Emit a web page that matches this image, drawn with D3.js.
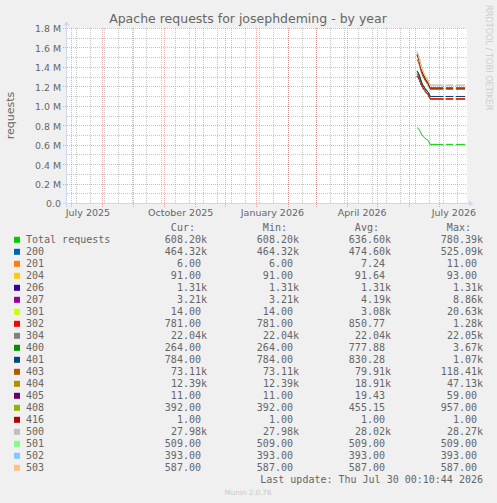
<!DOCTYPE html>
<html>
<head>
<meta charset="utf-8">
<script src="https://cdn.jsdelivr.net/npm/d3@7/dist/d3.min.js"></script>
<style>
html, body { margin: 0; padding: 0; background: #F0F0F0; }
svg { display: block; }
</style>
</head>
<body>
<div id="chart"></div>
<script>
// Graph time range (munin "by year" view) and sample times
const timeRange = ["2025-06-26 18:00", "2026-07-28 12:00"];
const dates = [
  "2026-06-09 00:00", "2026-06-10 00:00", "2026-06-11 00:00", "2026-06-12 00:00",
  "2026-06-13 00:00", "2026-06-14 00:00", "2026-06-15 00:00", "2026-06-16 00:00",
  "2026-06-17 00:00", "2026-06-18 00:00", "2026-06-19 00:00", "2026-06-20 00:00",
  "2026-06-22 00:00", "2026-07-05 00:00", "2026-07-06 00:00", "2026-07-07 12:00",
  "2026-07-14 18:00", "2026-07-16 00:00", "2026-07-17 12:00", "2026-07-26 12:00"
];

// requests per series (null = no data), stacked in this order
const sTotal = [780390, 772000, 762000, 742000, 718000, 702000, 690000, 680000, 671000, 663000, 656000, 648000, 608200, 608200, null, 608200, 608200, null, 608200, 608200];
const s200 = [525090, 522000, 517000, 510000, 503000, 497000, 492000, 487000, 482000, 477000, 472000, 468000, 464320, 464320, null, 464320, 464320, null, 464320, 464320];
const s201 = [11, 10, 10, 9, 9, 8, 8, 7, 7, 7, 6, 6, 6, 6, null, 6, 6, null, 6, 6];
const s204 = [93, 93, 93, 92, 92, 92, 92, 91, 91, 91, 91, 91, 91, 91, null, 91, 91, null, 91, 91];
const s206 = [1310, 1310, 1310, 1310, 1310, 1310, 1310, 1310, 1310, 1310, 1310, 1310, 1310, 1310, null, 1310, 1310, null, 1310, 1310];
const s207 = [8860, 7900, 7000, 6200, 5500, 4900, 4400, 4000, 3700, 3500, 3350, 3250, 3210, 3210, null, 3210, 3210, null, 3210, 3210];
const s301 = [20630, 16000, 11500, 7800, 4900, 2800, 1400, 600, 200, 60, 20, 14, 14, 14, null, 14, 14, null, 14, 14];
const s302 = [1280, 1220, 1150, 1080, 1020, 970, 920, 880, 850, 820, 800, 790, 781, 781, null, 781, 781, null, 781, 781];
const s304 = [22050, 22050, 22050, 22040, 22040, 22040, 22040, 22040, 22040, 22040, 22040, 22040, 22040, 22040, null, 22040, 22040, null, 22040, 22040];
const s400 = [3670, 3200, 2700, 2250, 1850, 1500, 1200, 950, 720, 540, 400, 300, 264, 264, null, 264, 264, null, 264, 264];
const s401 = [1070, 1030, 990, 950, 910, 880, 850, 830, 815, 800, 792, 787, 784, 784, null, 784, 784, null, 784, 784];
const s403 = [118410, 113000, 107500, 102000, 97000, 92500, 88500, 85000, 82000, 79500, 77000, 75000, 73110, 73110, null, 73110, 73110, null, 73110, 73110];
const s404 = [47130, 43500, 39500, 35500, 31500, 27500, 24000, 21000, 18500, 16500, 14800, 13400, 12390, 12390, null, 12390, 12390, null, 12390, 12390];
const s405 = [59, 52, 45, 39, 33, 28, 24, 20, 17, 15, 13, 12, 11, 11, null, 11, 11, null, 11, 11];
const s408 = [957, 900, 830, 760, 690, 630, 580, 530, 490, 460, 430, 405, 392, 392, null, 392, 392, null, 392, 392];
const s416 = [1, 1, 1, 1, 1, 1, 1, 1, 1, 1, 1, 1, 1, 1, null, 1, 1, null, 1, 1];
const s500 = [28270, 28230, 28180, 28130, 28090, 28050, 28020, 28000, 27990, 27980, 27980, 27980, 27980, 27980, null, 27980, 27980, null, 27980, 27980];
const s501 = [509, 509, 509, 509, 509, 509, 509, 509, 509, 509, 509, 509, 509, 509, null, 509, 509, null, 509, 509];
const s502 = [393, 393, 393, 393, 393, 393, 393, 393, 393, 393, 393, 393, 393, 393, null, 393, 393, null, 393, 393];
const s503 = [587, 587, 587, 587, 587, 587, 587, 587, 587, 587, 587, 587, 587, 587, null, 587, 587, null, 587, 587];

const seriesNames = ["Total requests", "200", "201", "204", "206", "207", "301", "302", "304", "400",
                     "401", "403", "404", "405", "408", "416", "500", "501", "502", "503"];
const seriesValues = [sTotal, s200, s201, s204, s206, s207, s301, s302, s304, s400,
                      s401, s403, s404, s405, s408, s416, s500, s501, s502, s503];
const seriesColors = ["#00CC00", "#0066B3", "#FF8000", "#FFCC00", "#330099", "#990099", "#CCFF00", "#FF0000", "#808080", "#008F00",
                      "#00487D", "#B35A00", "#B38F00", "#6B006B", "#8FB300", "#B30000", "#BEBEBE", "#80FF80", "#80C9FF", "#FFC080"];

// legend statistics as printed
const curText = ["608.20k", "464.32k", "6.00", "91.00", "1.31k", "3.21k", "14.00", "781.00", "22.04k", "264.00",
                 "784.00", "73.11k", "12.39k", "11.00", "392.00", "1.00", "27.98k", "509.00", "393.00", "587.00"];
const minText = ["608.20k", "464.32k", "6.00", "91.00", "1.31k", "3.21k", "14.00", "781.00", "22.04k", "264.00",
                 "784.00", "73.11k", "12.39k", "11.00", "392.00", "1.00", "27.98k", "509.00", "393.00", "587.00"];
const avgText = ["636.60k", "474.60k", "7.24", "91.64", "1.31k", "4.19k", "3.08k", "850.77", "22.04k", "777.88",
                 "830.28", "79.91k", "18.91k", "19.43", "455.15", "1.00", "28.02k", "509.00", "393.00", "587.00"];
const maxText = ["780.39k", "525.09k", "11.00", "93.00", "1.31k", "8.86k", "20.63k", "1.28k", "22.05k", "3.67k",
                 "1.07k", "118.41k", "47.13k", "59.00", "957.00", "1.00", "28.27k", "509.00", "393.00", "587.00"];
const statHeaders = ["Cur:", "Min:", "Avg:", "Max:"];

const yTicks = [0, 200000, 400000, 600000, 800000, 1000000, 1200000, 1400000, 1600000, 1800000];
const yTickLabels = ["0.0", "0.2 M", "0.4 M", "0.6 M", "0.8 M", "1.0 M", "1.2 M", "1.4 M", "1.6 M", "1.8 M"];
const xTickDates = ["2025-07-17", "2025-10-17", "2026-01-16", "2026-04-15", "2026-07-15"];
const xTickLabels = ["July 2025", "October 2025", "January 2026", "April 2026", "July 2026"];

const titleText = "Apache requests for josephdeming - by year";
const lastUpdate = "Last update: Thu Jul 30 00:10:44 2026";

const width = 497, height = 503;
const plot = {left: 67, right: 467, top: 28.5, bottom: 203.5};
const fontColor = "#666666",
      axisColor = "#CFD6F8",
      gridColor = "rgba(143,143,143,0.5)",
      majorColor = "rgba(222,79,79,0.45)";

const parse = d3.timeParse("%Y-%m-%d %H:%M");
const parseDay = d3.timeParse("%Y-%m-%d");
const times = dates.map(parse);

const x = d3.scaleTime()
  .domain(timeRange.map(parse))
  .range([plot.left, plot.right]);
const y = d3.scaleLinear()
  .domain([0, 1800000])
  .range([plot.bottom, plot.top]);

const svg = d3.select("#chart").append("svg")
  .attr("width", width)
  .attr("height", height);

svg.append("rect").attr("width", width).attr("height", height).attr("fill", "#F0F0F0");
svg.append("rect")
  .attr("x", plot.left).attr("y", 28)
  .attr("width", plot.right - plot.left).attr("height", 176)
  .attr("fill", "#FFFFFF");

const px = v => Math.floor(v) + 0.5;

// minor grid
const grid = svg.append("g").attr("shape-rendering", "crispEdges").attr("stroke-dasharray", "1,1");
d3.range(100000, 1800000, 200000).forEach(v => {
  grid.append("line")
    .attr("x1", plot.left).attr("x2", plot.right)
    .attr("y1", px(y(v))).attr("y2", px(y(v)))
    .attr("stroke", gridColor);
});
d3.timeWeek.range(new Date(2025, 6, 6), x.domain()[1], 2).forEach(t => {
  grid.append("line")
    .attr("x1", px(x(t))).attr("x2", px(x(t)))
    .attr("y1", 28).attr("y2", 203)
    .attr("stroke", gridColor);
});
// major grid
yTicks.forEach(v => {
  grid.append("line")
    .attr("x1", plot.left - 4).attr("x2", plot.right)
    .attr("y1", px(y(v))).attr("y2", px(y(v)))
    .attr("stroke", majorColor);
});
d3.timeMonth.range(x.domain()[0], x.domain()[1]).forEach(t => {
  grid.append("line")
    .attr("x1", px(x(t))).attr("x2", px(x(t)))
    .attr("y1", 28).attr("y2", 207)
    .attr("stroke", majorColor);
});

// stacked lines (each series drawn on top of the running sum)
const line = d3.line()
  .defined(d => d != null)
  .x((d, i) => x(times[i]))
  .y(d => y(d));

let running = sTotal.map(() => 0);
seriesValues.forEach((vals, k) => {
  running = running.map((r, i) => (vals[i] == null || r == null) ? null : r + vals[i]);
  svg.append("path")
    .attr("d", line(running))
    .attr("fill", "none")
    .attr("stroke", seriesColors[k])
    .attr("stroke-width", 1);
});

// axes
svg.append("line")
  .attr("x1", 63).attr("x2", 469)
  .attr("y1", 203.5).attr("y2", 203.5)
  .attr("stroke", axisColor);
svg.append("path")
  .attr("d", "M469,200.5L473.5,203.5L469,206.5Z")
  .attr("fill", axisColor);
svg.append("line")
  .attr("x1", 66.5).attr("x2", 66.5)
  .attr("y1", 207).attr("y2", 25)
  .attr("stroke", axisColor);
svg.append("path")
  .attr("d", "M63.5,25.5L66.5,21L69.5,25.5Z")
  .attr("fill", axisColor);

const yAxis = svg.append("g")
  .attr("transform", `translate(${plot.left - 6},0)`)
  .call(d3.axisLeft(y).tickValues(yTicks).tickFormat((d, i) => yTickLabels[i]).tickSize(0).tickPadding(0));
yAxis.select(".domain").remove();
yAxis.selectAll("text")
  .attr("font-family", "DejaVu Sans").attr("font-size", "9.4px")
  .attr("fill", fontColor).attr("dy", "3.4");

const xAxis = svg.append("g")
  .attr("transform", `translate(0,${plot.bottom})`)
  .call(d3.axisBottom(x).tickValues(xTickDates.map(parseDay)).tickFormat((d, i) => xTickLabels[i]).tickSize(0).tickPadding(0));
xAxis.select(".domain").remove();
xAxis.selectAll("text")
  .attr("font-family", "DejaVu Sans").attr("font-size", "9.5px")
  .attr("fill", fontColor).attr("dy", null).attr("y", 12.5);

// title and labels
svg.append("text")
  .attr("x", 248).attr("y", 23)
  .attr("text-anchor", "middle")
  .attr("font-family", "DejaVu Sans").attr("font-size", "12.5px")
  .attr("fill", fontColor)
  .text(titleText);

svg.append("text")
  .attr("transform", "translate(14,115.5) rotate(-90)")
  .attr("text-anchor", "middle")
  .attr("font-family", "DejaVu Sans").attr("font-size", "11px")
  .attr("fill", fontColor)
  .text("requests");

svg.append("text")
  .attr("transform", "translate(485.5,5) rotate(90)")
  .attr("font-family", "DejaVu Sans").attr("font-size", "8.2px")
  .attr("fill", "#CDCDCD")
  .text("RRDTOOL / TOBI OETIKER");

// legend
const mono = 6.02;
const colEnds = [207, 299, 391, 483];
const legend = svg.append("g")
  .attr("font-family", "DejaVu Sans Mono").attr("font-size", "10px")
  .attr("fill", fontColor);
statHeaders.forEach((h, c) => {
  legend.append("text")
    .attr("x", colEnds[c] - 2 * mono).attr("y", 231)
    .attr("text-anchor", "end")
    .text(h);
});
const statCols = [curText, minText, avgText, maxText];
seriesNames.forEach((name, i) => {
  const by = 243.3 + i * 12;
  legend.append("rect")
    .attr("x", 14).attr("y", by - 6.5)
    .attr("width", 6).attr("height", 6)
    .attr("fill", seriesColors[i]);
  legend.append("text")
    .attr("x", 26).attr("y", by)
    .text(name);
  statCols.forEach((col, c) => {
    const s = col[i];
    const shift = s.endsWith("k") ? 0 : mono;
    legend.append("text")
      .attr("x", colEnds[c] - shift).attr("y", by)
      .attr("text-anchor", "end")
      .text(s);
  });
});
legend.append("text")
  .attr("x", colEnds[3]).attr("y", 243.3 + 20 * 12)
  .attr("text-anchor", "end")
  .text(lastUpdate);

svg.append("text")
  .attr("x", 248).attr("y", 495)
  .attr("text-anchor", "middle")
  .attr("font-family", "DejaVu Sans").attr("font-size", "7.2px")
  .attr("fill", "#C8C8C8")
  .text("Munin 2.0.76");
</script>
</body>
</html>
